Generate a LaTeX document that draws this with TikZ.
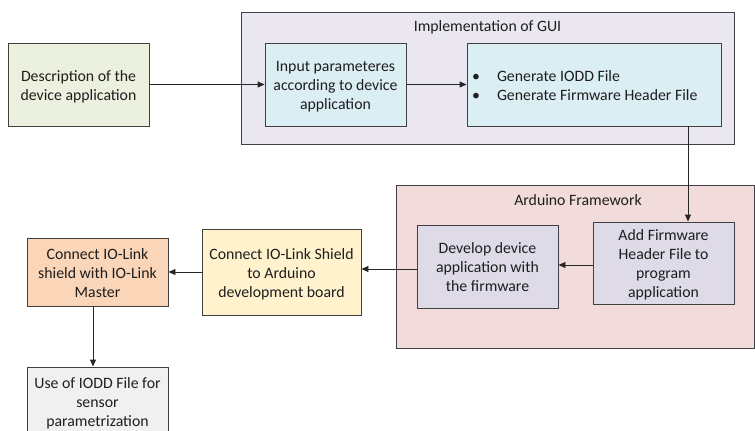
\documentclass[tikz,border=0pt]{standalone}
\usepackage{fontspec}
\setmainfont{Carlito}
\usetikzlibrary{arrows.meta}
\definecolor{bordercol}{HTML}{404040}
\definecolor{txtcol}{HTML}{1E1E1E}
\definecolor{greenfill}{HTML}{EBF1DE}
\definecolor{guifill}{HTML}{EBE7F0}
\definecolor{bluefill}{HTML}{DBEEF4}
\definecolor{pinkfill}{HTML}{F2DCDB}
\definecolor{lavfill}{HTML}{DEDAE8}
\definecolor{yellowfill}{HTML}{FFF2CC}
\definecolor{peachfill}{HTML}{FBD5B7}
\definecolor{grayfill}{HTML}{F0F0F0}
% centred block of lines, shifted so rows are visually centred on the node centre
\newcommand{\cblock}[1]{\raisebox{-6pt}[0pt][0pt]{\begin{tabular}{@{}c@{}}#1\end{tabular}}}
\newcommand{\lblock}[2]{\raisebox{-6pt}[0pt][0pt]{\begin{tabular}{@{}p{#1}@{}}#2\end{tabular}}}
\tikzset{
  box/.style={draw=bordercol, line width=0.9pt, inner sep=0pt,
    text=txtcol, font=\fontsize{15.8}{19}\selectfont},
  container/.style={draw=bordercol, line width=0.9pt, inner sep=0pt},
  ttl/.style={text=txtcol, font=\fontsize{15.8}{19}\selectfont, inner sep=0pt},
  arr/.style={draw=black!85, line width=0.9pt, -{Triangle[length=7pt,width=6pt]}},
}
\begin{document}
\begin{tikzpicture}[x=1pt,y=-1pt]
\useasboundingbox (0,0) rectangle (755,431);
\clip (0,0) rectangle (755,431);
% containers
\node[container, fill=guifill, minimum width=493pt, minimum height=132pt] (gui) at (487.5,78) {};
\node[ttl] (guititle) at (487.5,27) {Implementation of GUI};
\node[container, fill=pinkfill, minimum width=358.5pt, minimum height=163pt] (ard) at (575.25,266.5) {};
\node[ttl] (ardtitle) at (578,200) {Arduino Framework};
% boxes
\node[box, fill=greenfill, minimum width=141pt, minimum height=83pt] (desc) at (78.5,84.5)
  {\cblock{Description of the\\device application}};
\node[box, fill=bluefill, minimum width=141pt, minimum height=83pt] (input) at (335.5,84.5)
  {\cblock{Input parameteres\\according to device\\application}};
\node[box, fill=bluefill, minimum width=254pt, minimum height=83pt] (gen) at (594,84.5)
  {\lblock{244pt}{\makebox[25pt][l]{\textbullet}Generate IODD File\\\makebox[25pt][l]{\textbullet}Generate Firmware Header File}};
\node[box, fill=lavfill, minimum width=141pt, minimum height=82pt] (add) at (663.5,263)
  {\cblock{Add Firmware\\Header File to\\program\\application}};
\node[box, fill=lavfill, minimum width=141pt, minimum height=83pt] (dev) at (487.5,266.5)
  {\cblock{Develop device\\application with\\the firmware}};
\node[box, fill=yellowfill, minimum width=159pt, minimum height=86pt] (shield) at (281.5,272)
  {\cblock{Connect IO-Link Shield\\to Arduino\\development board}};
\node[box, fill=peachfill, minimum width=141pt, minimum height=68pt] (master) at (97.5,272)
  {\cblock{Connect IO-Link\\shield with IO-Link\\Master}};
\node[box, fill=grayfill, minimum width=141pt, minimum height=68pt] (use) at (97.5,401)
  {\cblock{Use of IODD File for\\sensor\\parametrization}};
% arrows
\draw[arr] (desc.east) -- (input.west);
\draw[arr] (input.east) -- (gen.west);
\draw[arr] (gen.south -| 688,0) -- (add.north -| 688,0);
\draw[arr] (add.west |- 0,265) -- (dev.east |- 0,265);
\draw[arr] (dev.west |- 0,269) -- (shield.east |- 0,269);
\draw[arr] (shield.west |- 0,272) -- (master.east |- 0,272);
\draw[arr] (master.south -| 93,0) -- (use.north -| 93,0);
\end{tikzpicture}
\end{document}
